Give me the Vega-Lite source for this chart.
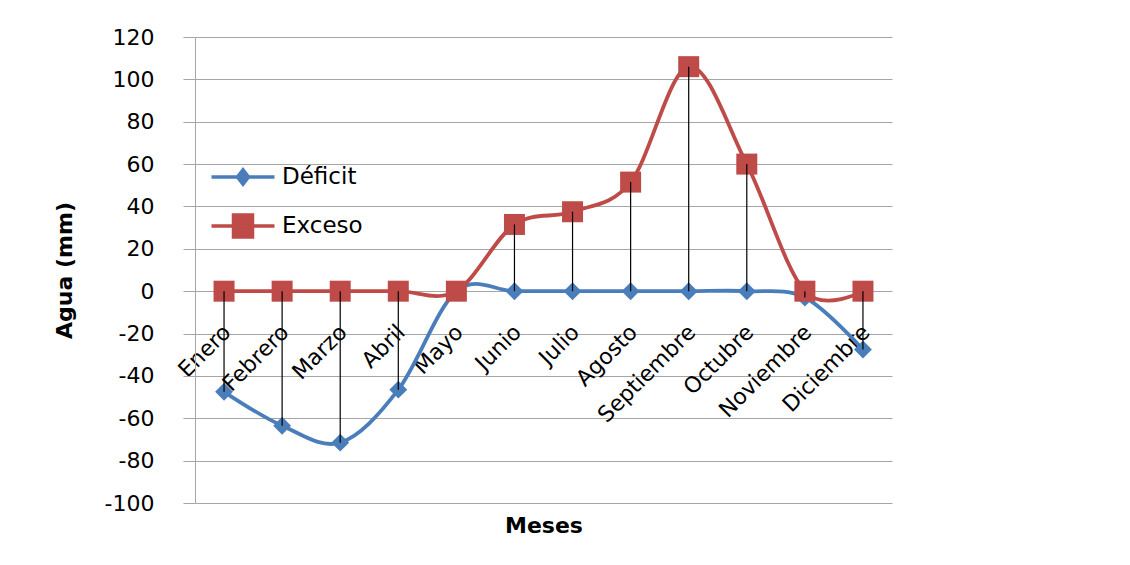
{
  "$schema": "https://vega.github.io/schema/vega-lite/v6.json",
  "width": 697,
  "height": 466,
  "autosize": {"type": "none"},
  "padding": {"left": 195, "top": 37, "right": 238, "bottom": 62},
  "background": "white",
  "config": {
    "view": {"stroke": null},
    "font": "DejaVu Sans",
    "axis": {"labelColor": "black", "titleColor": "black"}
  },
  "data": {
    "values": [
      {"mes": "Enero", "Déficit": -47.5, "Exceso": 0},
      {"mes": "Febrero", "Déficit": -63.5, "Exceso": 0},
      {"mes": "Marzo", "Déficit": -71.5, "Exceso": 0},
      {"mes": "Abril", "Déficit": -46.5, "Exceso": 0},
      {"mes": "Mayo", "Déficit": 0, "Exceso": 0},
      {"mes": "Junio", "Déficit": 0, "Exceso": 31.5},
      {"mes": "Julio", "Déficit": 0, "Exceso": 37.5},
      {"mes": "Agosto", "Déficit": 0, "Exceso": 51.5},
      {"mes": "Septiembre", "Déficit": 0, "Exceso": 106},
      {"mes": "Octubre", "Déficit": 0, "Exceso": 60},
      {"mes": "Noviembre", "Déficit": -3, "Exceso": 0},
      {"mes": "Diciembre", "Déficit": -27.5, "Exceso": 0}
    ]
  },
  "encoding": {
    "x": {
      "field": "mes",
      "type": "nominal",
      "sort": ["Enero", "Febrero", "Marzo", "Abril", "Mayo", "Junio", "Julio", "Agosto", "Septiembre", "Octubre", "Noviembre", "Diciembre"],
      "axis": {
        "orient": "bottom",
        "offset": -211.8,
        "labelAngle": -45,
        "labelAlign": "right",
        "labelBaseline": "top",
        "labelFontSize": 22,
        "labelPadding": 30,
        "labelOffset": -4,
        "domain": false,
        "ticks": false,
        "grid": false,
        "title": "Meses",
        "titleFontSize": 22,
        "titleFontWeight": "bold",
        "titleBaseline": "middle",
        "titleY": 233.8
      }
    }
  },
  "layer": [
    {
      "transform": [{"fold": ["Déficit", "Exceso"], "as": ["serie", "valor"]}],
      "mark": {"type": "line", "interpolate": "cardinal", "tension": 0, "strokeWidth": 3.8},
      "encoding": {
        "y": {
          "field": "valor",
          "type": "quantitative",
          "scale": {"domain": [-100, 120], "nice": false, "zero": false},
          "axis": {
            "values": [-100, -80, -60, -40, -20, 0, 20, 40, 60, 80, 100, 120],
            "labelExpr": "toString(datum.value)",
            "labelFontSize": 22,
            "labelPadding": 29,
            "tickSize": 12,
            "tickColor": "#A6A6A6",
            "domainColor": "#A6A6A6",
            "gridColor": "#A6A6A6",
            "grid": true,
            "gridWidth": 1.2,
            "title": "Agua (mm)",
            "titleFontSize": 22,
            "titleFontWeight": "bold",
            "titlePadding": 28
          }
        },
        "color": {
          "field": "serie",
          "type": "nominal",
          "scale": {"domain": ["Déficit", "Exceso"], "range": ["#4A7EBB", "#BE4B48"]},
          "legend": {
            "title": null,
            "orient": "none",
            "legendX": 36,
            "legendY": 128,
            "padding": 0,
            "symbolSize": 400,
            "symbolStrokeWidth": 3.5,
            "labelFontSize": 23,
            "labelColor": "black",
            "labelOffset": 27,
            "rowPadding": 16,
            "encode": {
              "symbols": {
                "update": {
                  "shape": {"signal": "datum.value === 'Déficit' ? 'M-3.15,0H3.15M0,-0.72L0.55,0L0,0.72L-0.55,0Z' : 'M-3.15,0H3.15M-0.95,-1.1H0.95V1.1H-0.95Z'"},
                  "fill": {"scale": "color", "field": "value"},
                  "stroke": {"scale": "color", "field": "value"},
                  "strokeWidth": {"value": 3.5},
                  "strokeOpacity": {"value": 1},
                  "opacity": {"value": 1}
                }
              }
            }
          }
        }
      }
    },
    {
      "mark": {"type": "point", "filled": true, "opacity": 1, "shape": "diamond", "size": 320, "color": "#4A7EBB"},
      "encoding": {
        "y": {"field": "Déficit", "type": "quantitative"}
      }
    },
    {
      "mark": {"type": "point", "filled": true, "opacity": 1, "shape": "square", "size": 441, "color": "#BE4B48"},
      "encoding": {
        "y": {"field": "Exceso", "type": "quantitative"}
      }
    },
    {
      "mark": {"type": "rule", "color": "black", "strokeWidth": 1.2},
      "encoding": {
        "y": {"field": "Déficit", "type": "quantitative"},
        "y2": {"field": "Exceso"}
      }
    }
  ]
}
